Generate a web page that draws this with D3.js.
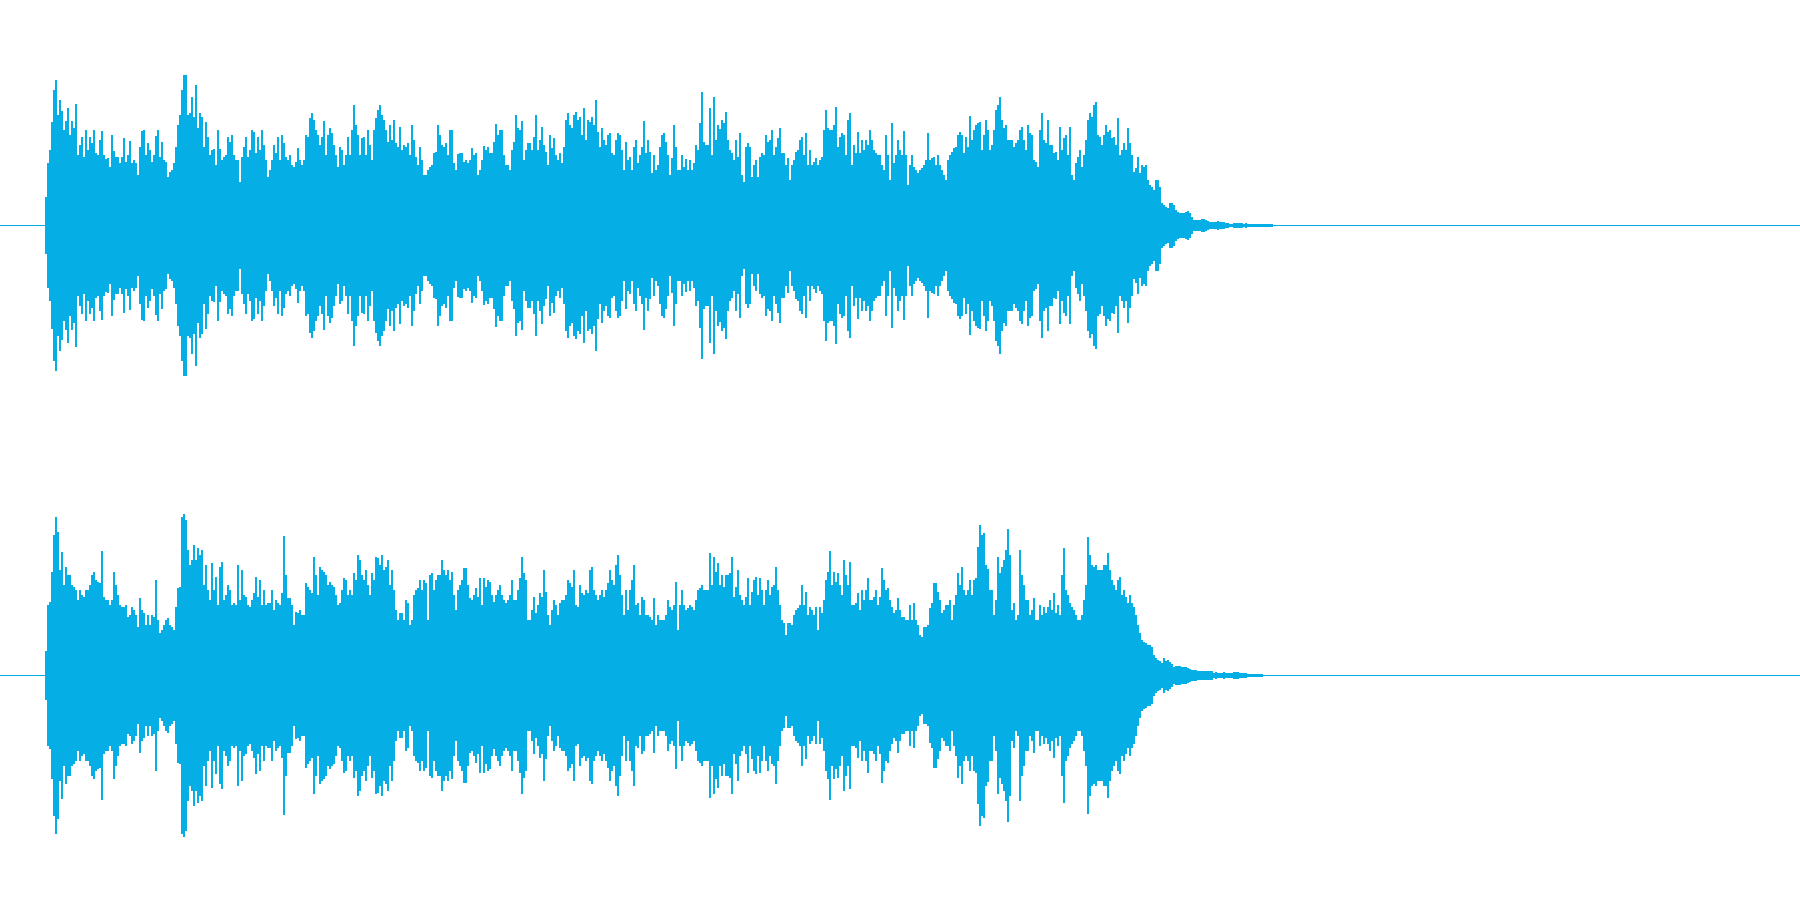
<!DOCTYPE html>
<html><head><meta charset="utf-8">
<script src="https://cdn.jsdelivr.net/npm/d3@7"></script>
<style>html,body{margin:0;padding:0;background:#fff;overflow:hidden}svg{display:block}</style>
</head><body><div id="chart"></div>
<script>
const channelOne = [
28,62,75,103,135,145,110,125,114,95,104,117,90,104,97,121,70,80,88,68,95,75,88,82,95,72,70,85,94,70,66,67,58,90,74,68,68,62,68,87,63,70,84,62,65,62,50,78,94,95,70,
82,75,63,70,89,95,68,83,65,63,48,53,55,62,78,100,
110,135,150,150,110,112,128,108,140,97,112,108,78,103,88,70,75,76,60,95,76,65,68,70,88,83,90,70,65,65,43,68,78,88,68,75,95,93,72,88,75,95,80,65,48,55,65,80,72,88,65,90,82,68,65,70,60,58,63,77,65,60,65,90,88,107,112,105,95,90,80,88,104,70,90,97,92,80,70,58,78,75,60,70,88,70,95,120,100,90,70,87,88,70,95,80,65,95,107,115,120,110,105,95,83,100,85,105,82,78,98,75,80,78,82,70,100,85,68,60,78,65,50,50,55,58,60,72,73,100,90,80,78,82,70,95,
95,62,55,71,72,72,63,65,62,65,77,70,72,50,55,65,79,75,78,72,72,83,101,90,95,95,70,60,60,55,75,83,110,97,95,104,65,75,82,82,75,88,110,75,85,98,80,73,60,90,77,87,70,65,72,62,78,105,112,100,97,110,113,105,108,90,117,85,105,103,108,100,125,93,78,97,85,80,90,92,72,70,85,92,90,75,55,83,65,68,55,78,85,62,70,78,104,72,85,73,52,70,55,60,78,90,92,83,70,50,67,100,78,55,55,70,58,66,55,65,55,62,80,75,102,133,83,80,80,117,70,128,85,100,96,105,102,113,85,75,72,65,85,68,92,50,43,78,82,78,48,60,65,48,68,72,70,90,83,85,95,70,78,87,97,72,72,60,67,45,60,65,73,75,85,88,70,92,60,75,60,63,67,60,65,68,95,115,97,95,95,100,118,78,88,92,90,70,105,112,60,80,72,93,72,85,75,85,80,95,
85,75,72,70,70,60,55,90,70,45,102,62,70,85,75,70,94,70,40,60,70,58,55,52,55,57,60,65,92,65,67,68,60,70,60,55,50,45,65,70,73,77,78,90,93,90,72,88,78,109,85,95,100,102,103,75,90,105,95,75,80,95,115,120,128,105,97,100,85,85,85,78,82,85,95,98,85,75,100,92,90,65,63,58,95,112,85,82,105,80,80,72,73,65,98,75,87,90,70,98,50,45,62,68,75,58,70,85,105,112,108,120,123,90,88,80,90,100,93,95,87,88,80,107,70,75,82,75,97,82,70,53,57,68,52,60,58,60,45,40,38,35,45,45,38,22,20,18,17,22,22,20,15,13,12,12,12,13,14,12,8,5,5,5,5,6,6,5,4,3,3,3,3,4,3,3,3,2,2,1,1,2,2,2,2,2,1,2,1,1,1,1,1,1,1,1,1,1,1,1,1
];
const channelTwo = [
24,70,73,103,140,158,143,105,123,90,108,100,100,90,88,85,75,85,80,78,85,85,90,100,103,95,93,92,124,78,75,75,70,75,103,90,80,70,68,68,70,58,60,68,65,60,48,77,65,62,50,60,50,60,58,95,55,42,45,50,55,57,50,48,45,68,87,88,158,161,155,125,110,115,130,115,127,120,125,90,110,85,75,112,85,98,70,108,113,75,80,90,85,70,72,70,110,75,105,80,78,70,68,75,82,98,78,95,70,85,70,72,72,85,65,75,72,70,82,139,100,77,77,70,50,63,62,65,60,60,92,88,85,82,118,100,80,108,105,103,100,90,93,90,88,80,70,72,85,97,95,80,85,80,102,95,120,115,100,95,105,90,80,102,95,118,117,110,120,105,108,115,90,105,85,65,55,62,62,55,75,72,50,55,80,85,87,95,85,95,92,55,100,102,85,95,100,100,115,105,100,105,95,
103,80,65,85,90,95,107,107,90,77,75,80,87,78,97,70,97,88,95,93,80,73,80,85,90,80,75,72,75,80,95,75,75,85,97,118,102,95,55,55,65,78,62,70,82,78,105,83,60,50,65,75,70,60,72,75,75,80,95,92,88,105,70,68,90,82,80,85,82,105,108,85,80,75,80,85,78,85,92,105,95,90,110,120,100,80,60,85,65,85,95,110,70,72,60,78,75,60,60,58,55,77,50,60,55,55,55,60,75,68,65,70,93,45,70,85,70,65,67,70,68,65,75,85,87,90,85,85,85,122,90,118,103,112,90,100,88,100,100,102,118,78,88,105,80,75,70,78,97,70,83,95,98,80,97,85,70,85,95,80,88,90,108,85,70,55,52,40,52,52,50,60,65,67,70,90,70,83,60,68,65,60,68,45,68,62,75,95,103,124,90,103,93,102,90,80,115,100,90,113,70,70,72,82,65,85,75,85,97,75,
75,78,85,70,78,107,95,85,87,75,68,62,65,77,65,58,58,55,55,70,55,72,55,50,40,38,48,48,50,67,72,92,92,83,75,62,65,70,70,75,55,70,80,102,90,108,85,80,85,95,80,95,97,128,150,140,142,110,106,85,85,60,75,118,102,108,115,125,146,120,65,72,55,60,125,100,90,75,75,60,65,77,55,55,70,60,68,62,68,75,65,82,62,70,60,100,127,85,80,72,68,65,60,55,55,60,75,90,138,120,110,108,110,105,105,105,110,110,122,105,95,90,85,95,98,80,85,78,72,80,72,68,60,50,42,35,33,32,30,30,28,20,17,15,14,12,17,14,15,13,11,8,9,9,9,8,8,8,7,6,5,5,5,4,4,4,4,4,4,4,4,2,3,2,2,2,3,2,2,2,2,3,3,3,2,2,2,2,1,1,1,1,1,1,1,1
];
const channels = [channelOne, channelTwo];
const blue = "#06aee6";
const W = 1800, H = 900, panelH = H / channels.length;

const svg = d3.select("#chart").append("svg")
  .attr("width", W).attr("height", H).attr("viewBox", `0 0 ${W} ${H}`)
  .attr("shape-rendering", "crispEdges");

const x = d3.scaleLinear().domain([0, 630]).range([45, 1305]);
const y = d3.scaleLinear().domain([-225, 225]).range([panelH, 0]);
const barW = x(1) - x(0);

const panels = svg.selectAll("g.channel").data(channels).join("g")
  .attr("class", "channel")
  .attr("transform", (d, i) => `translate(0,${i * panelH})`);

panels.append("rect")
  .attr("class", "baseline")
  .attr("x", 0).attr("width", W)
  .attr("y", y(0)).attr("height", 1)
  .attr("fill", blue);

panels.selectAll("rect.sample").data(d => d).join("rect")
  .attr("class", "sample")
  .attr("x", (d, i) => x(i))
  .attr("width", barW)
  .attr("y", d => y(d))
  .attr("height", d => y(-d) - y(d) + 1)
  .attr("fill", blue);
</script></body></html>
